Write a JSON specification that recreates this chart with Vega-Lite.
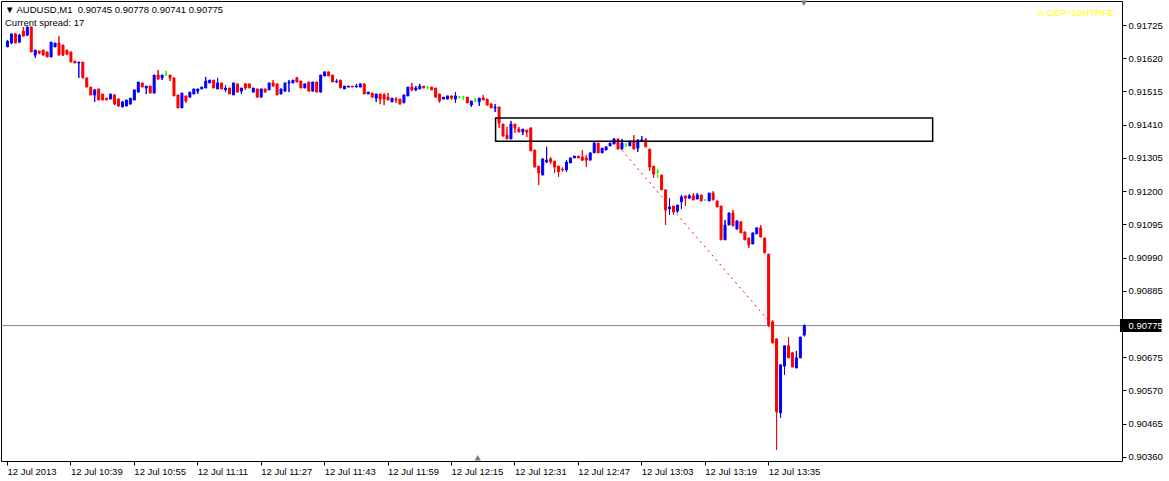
{
"$schema":"https://vega.github.io/schema/vega-lite/v6.json",
"width":1121,"height":460,
"autosize":{"type":"none"},
"padding":{"left":1,"top":1,"right":47,"bottom":20},
"background":"white",
"config":{"view":{"stroke":"black","strokeWidth":1},"font":"Liberation Sans","axis":{"labelOverlap":false,"labelFlush":false,"labelBound":false}},
"title":{"text":"▼ AUDUSD,M1\u00a0 0.90745 0.90778 0.90741 0.90775","subtitle":"Current spread: 17","anchor":"start","frame":"group","offset":-27,"dx":4,"font":"Liberation Sans","fontSize":9.5,"fontWeight":"normal","color":"black","subtitleFont":"Liberation Sans","subtitleFontSize":9.5,"subtitleColor":"black","subtitlePadding":3},
"data":{"values":[
{"t":"10:23","o":0.91656,"h":0.91678,"l":0.91656,"c":0.91674},
{"t":"10:24","o":0.91668,"h":0.91697,"l":0.91665,"c":0.91697},
{"t":"10:25","o":0.91697,"h":0.91700,"l":0.91668,"c":0.91668},
{"t":"10:26","o":0.91671,"h":0.91697,"l":0.91668,"c":0.91693},
{"t":"10:27","o":0.91706,"h":0.91719,"l":0.91690,"c":0.91690},
{"t":"10:28","o":0.91693,"h":0.91719,"l":0.91690,"c":0.91719},
{"t":"10:29","o":0.91719,"h":0.91719,"l":0.91640,"c":0.91640},
{"t":"10:30","o":0.91630,"h":0.91646,"l":0.91621,"c":0.91646},
{"t":"10:31","o":0.91643,"h":0.91643,"l":0.91633,"c":0.91637},
{"t":"10:32","o":0.91646,"h":0.91646,"l":0.91630,"c":0.91630},
{"t":"10:33","o":0.91640,"h":0.91640,"l":0.91624,"c":0.91624},
{"t":"10:34","o":0.91624,"h":0.91671,"l":0.91624,"c":0.91671},
{"t":"10:35","o":0.91656,"h":0.91668,"l":0.91656,"c":0.91668},
{"t":"10:36","o":0.91668,"h":0.91690,"l":0.91630,"c":0.91630},
{"t":"10:37","o":0.91662,"h":0.91662,"l":0.91627,"c":0.91630},
{"t":"10:38","o":0.91646,"h":0.91646,"l":0.91630,"c":0.91633},
{"t":"10:39","o":0.91640,"h":0.91640,"l":0.91608,"c":0.91608},
{"t":"10:40","o":0.91611,"h":0.91611,"l":0.91605,"c":0.91605},
{"t":"10:41","o":0.91605,"h":0.91608,"l":0.91558,"c":0.91608},
{"t":"10:42","o":0.91608,"h":0.91608,"l":0.91558,"c":0.91558},
{"t":"10:43","o":0.91558,"h":0.91558,"l":0.91529,"c":0.91529},
{"t":"10:44","o":0.91529,"h":0.91529,"l":0.91504,"c":0.91504},
{"t":"10:45","o":0.91504,"h":0.91523,"l":0.91482,"c":0.91520},
{"t":"10:46","o":0.91523,"h":0.91523,"l":0.91488,"c":0.91488},
{"t":"10:47","o":0.91507,"h":0.91507,"l":0.91488,"c":0.91488},
{"t":"10:48","o":0.91494,"h":0.91494,"l":0.91488,"c":0.91488},
{"t":"10:49","o":0.91491,"h":0.91507,"l":0.91491,"c":0.91507},
{"t":"10:50","o":0.91504,"h":0.91507,"l":0.91472,"c":0.91475},
{"t":"10:51","o":0.91491,"h":0.91494,"l":0.91466,"c":0.91469},
{"t":"10:52","o":0.91466,"h":0.91485,"l":0.91466,"c":0.91482},
{"t":"10:53","o":0.91469,"h":0.91488,"l":0.91469,"c":0.91488},
{"t":"10:54","o":0.91475,"h":0.91494,"l":0.91475,"c":0.91494},
{"t":"10:55","o":0.91488,"h":0.91520,"l":0.91488,"c":0.91520},
{"t":"10:56","o":0.91513,"h":0.91545,"l":0.91513,"c":0.91545},
{"t":"10:57","o":0.91542,"h":0.91542,"l":0.91529,"c":0.91529},
{"t":"10:58","o":0.91526,"h":0.91532,"l":0.91507,"c":0.91532},
{"t":"10:59","o":0.91532,"h":0.91532,"l":0.91510,"c":0.91510},
{"t":"11:00","o":0.91510,"h":0.91567,"l":0.91510,"c":0.91567},
{"t":"11:01","o":0.91567,"h":0.91583,"l":0.91554,"c":0.91554},
{"t":"11:02","o":0.91558,"h":0.91567,"l":0.91551,"c":0.91567},
{"t":"11:03","o":0.91567,"h":0.91580,"l":0.91567,"c":0.91567},
{"t":"11:04","o":0.91567,"h":0.91567,"l":0.91548,"c":0.91558},
{"t":"11:05","o":0.91558,"h":0.91558,"l":0.91501,"c":0.91501},
{"t":"11:06","o":0.91504,"h":0.91504,"l":0.91463,"c":0.91463},
{"t":"11:07","o":0.91463,"h":0.91510,"l":0.91463,"c":0.91510},
{"t":"11:08","o":0.91501,"h":0.91501,"l":0.91479,"c":0.91485},
{"t":"11:09","o":0.91497,"h":0.91513,"l":0.91497,"c":0.91513},
{"t":"11:10","o":0.91507,"h":0.91523,"l":0.91507,"c":0.91523},
{"t":"11:11","o":0.91516,"h":0.91523,"l":0.91507,"c":0.91523},
{"t":"11:12","o":0.91523,"h":0.91529,"l":0.91523,"c":0.91529},
{"t":"11:13","o":0.91526,"h":0.91561,"l":0.91526,"c":0.91548},
{"t":"11:14","o":0.91542,"h":0.91551,"l":0.91542,"c":0.91551},
{"t":"11:15","o":0.91551,"h":0.91551,"l":0.91526,"c":0.91526},
{"t":"11:16","o":0.91523,"h":0.91558,"l":0.91523,"c":0.91542},
{"t":"11:17","o":0.91542,"h":0.91542,"l":0.91523,"c":0.91523},
{"t":"11:18","o":0.91520,"h":0.91535,"l":0.91513,"c":0.91526},
{"t":"11:19","o":0.91526,"h":0.91526,"l":0.91507,"c":0.91507},
{"t":"11:20","o":0.91504,"h":0.91542,"l":0.91504,"c":0.91542},
{"t":"11:21","o":0.91539,"h":0.91539,"l":0.91513,"c":0.91513},
{"t":"11:22","o":0.91516,"h":0.91526,"l":0.91507,"c":0.91526},
{"t":"11:23","o":0.91539,"h":0.91542,"l":0.91520,"c":0.91526},
{"t":"11:24","o":0.91539,"h":0.91539,"l":0.91526,"c":0.91526},
{"t":"11:25","o":0.91513,"h":0.91526,"l":0.91513,"c":0.91526},
{"t":"11:26","o":0.91523,"h":0.91523,"l":0.91497,"c":0.91497},
{"t":"11:27","o":0.91497,"h":0.91523,"l":0.91497,"c":0.91523},
{"t":"11:28","o":0.91523,"h":0.91523,"l":0.91513,"c":0.91513},
{"t":"11:29","o":0.91520,"h":0.91542,"l":0.91520,"c":0.91542},
{"t":"11:30","o":0.91542,"h":0.91551,"l":0.91532,"c":0.91532},
{"t":"11:31","o":0.91539,"h":0.91539,"l":0.91504,"c":0.91504},
{"t":"11:32","o":0.91507,"h":0.91523,"l":0.91507,"c":0.91523},
{"t":"11:33","o":0.91516,"h":0.91542,"l":0.91516,"c":0.91542},
{"t":"11:34","o":0.91542,"h":0.91551,"l":0.91513,"c":0.91545},
{"t":"11:35","o":0.91542,"h":0.91551,"l":0.91542,"c":0.91551},
{"t":"11:36","o":0.91558,"h":0.91561,"l":0.91545,"c":0.91545},
{"t":"11:37","o":0.91548,"h":0.91548,"l":0.91526,"c":0.91526},
{"t":"11:38","o":0.91526,"h":0.91539,"l":0.91526,"c":0.91539},
{"t":"11:39","o":0.91545,"h":0.91545,"l":0.91516,"c":0.91516},
{"t":"11:40","o":0.91516,"h":0.91545,"l":0.91516,"c":0.91545},
{"t":"11:41","o":0.91545,"h":0.91545,"l":0.91513,"c":0.91513},
{"t":"11:42","o":0.91513,"h":0.91567,"l":0.91513,"c":0.91567},
{"t":"11:43","o":0.91564,"h":0.91577,"l":0.91564,"c":0.91577},
{"t":"11:44","o":0.91577,"h":0.91577,"l":0.91564,"c":0.91564},
{"t":"11:45","o":0.91567,"h":0.91567,"l":0.91545,"c":0.91545},
{"t":"11:46","o":0.91545,"h":0.91554,"l":0.91542,"c":0.91548},
{"t":"11:47","o":0.91551,"h":0.91551,"l":0.91526,"c":0.91526},
{"t":"11:48","o":0.91523,"h":0.91532,"l":0.91523,"c":0.91532},
{"t":"11:49","o":0.91529,"h":0.91532,"l":0.91529,"c":0.91532},
{"t":"11:50","o":0.91532,"h":0.91532,"l":0.91529,"c":0.91529},
{"t":"11:51","o":0.91529,"h":0.91539,"l":0.91529,"c":0.91532},
{"t":"11:52","o":0.91529,"h":0.91539,"l":0.91529,"c":0.91539},
{"t":"11:53","o":0.91539,"h":0.91539,"l":0.91507,"c":0.91507},
{"t":"11:54","o":0.91507,"h":0.91513,"l":0.91507,"c":0.91513},
{"t":"11:55","o":0.91510,"h":0.91510,"l":0.91497,"c":0.91497},
{"t":"11:56","o":0.91494,"h":0.91507,"l":0.91482,"c":0.91507},
{"t":"11:57","o":0.91507,"h":0.91507,"l":0.91475,"c":0.91491},
{"t":"11:58","o":0.91504,"h":0.91510,"l":0.91472,"c":0.91491},
{"t":"11:59","o":0.91497,"h":0.91510,"l":0.91488,"c":0.91488},
{"t":"12:00","o":0.91482,"h":0.91494,"l":0.91482,"c":0.91494},
{"t":"12:01","o":0.91491,"h":0.91497,"l":0.91479,"c":0.91488},
{"t":"12:02","o":0.91491,"h":0.91491,"l":0.91475,"c":0.91475},
{"t":"12:03","o":0.91479,"h":0.91504,"l":0.91479,"c":0.91504},
{"t":"12:04","o":0.91501,"h":0.91529,"l":0.91501,"c":0.91529},
{"t":"12:05","o":0.91529,"h":0.91542,"l":0.91516,"c":0.91520},
{"t":"12:06","o":0.91520,"h":0.91532,"l":0.91516,"c":0.91526},
{"t":"12:07","o":0.91523,"h":0.91539,"l":0.91523,"c":0.91532},
{"t":"12:08","o":0.91532,"h":0.91532,"l":0.91526,"c":0.91526},
{"t":"12:09","o":0.91529,"h":0.91532,"l":0.91523,"c":0.91529},
{"t":"12:10","o":0.91529,"h":0.91529,"l":0.91520,"c":0.91520},
{"t":"12:11","o":0.91526,"h":0.91526,"l":0.91497,"c":0.91497},
{"t":"12:12","o":0.91507,"h":0.91507,"l":0.91479,"c":0.91485},
{"t":"12:13","o":0.91491,"h":0.91497,"l":0.91491,"c":0.91497},
{"t":"12:14","o":0.91491,"h":0.91501,"l":0.91491,"c":0.91501},
{"t":"12:15","o":0.91501,"h":0.91501,"l":0.91488,"c":0.91494},
{"t":"12:16","o":0.91491,"h":0.91513,"l":0.91479,"c":0.91501},
{"t":"12:17","o":0.91497,"h":0.91501,"l":0.91494,"c":0.91497},
{"t":"12:18","o":0.91497,"h":0.91501,"l":0.91488,"c":0.91497},
{"t":"12:19","o":0.91497,"h":0.91497,"l":0.91479,"c":0.91479},
{"t":"12:20","o":0.91472,"h":0.91485,"l":0.91466,"c":0.91485},
{"t":"12:21","o":0.91488,"h":0.91494,"l":0.91482,"c":0.91488},
{"t":"12:22","o":0.91482,"h":0.91494,"l":0.91469,"c":0.91494},
{"t":"12:23","o":0.91494,"h":0.91504,"l":0.91488,"c":0.91488},
{"t":"12:24","o":0.91491,"h":0.91491,"l":0.91472,"c":0.91472},
{"t":"12:25","o":0.91475,"h":0.91479,"l":0.91463,"c":0.91463},
{"t":"12:26","o":0.91463,"h":0.91475,"l":0.91450,"c":0.91466},
{"t":"12:27","o":0.91466,"h":0.91466,"l":0.91400,"c":0.91415},
{"t":"12:28","o":0.91412,"h":0.91412,"l":0.91374,"c":0.91374},
{"t":"12:29","o":0.91377,"h":0.91403,"l":0.91365,"c":0.91365},
{"t":"12:30","o":0.91365,"h":0.91422,"l":0.91365,"c":0.91412},
{"t":"12:31","o":0.91412,"h":0.91412,"l":0.91384,"c":0.91400},
{"t":"12:32","o":0.91396,"h":0.91403,"l":0.91387,"c":0.91387},
{"t":"12:33","o":0.91387,"h":0.91396,"l":0.91377,"c":0.91396},
{"t":"12:34","o":0.91393,"h":0.91393,"l":0.91371,"c":0.91387},
{"t":"12:35","o":0.91400,"h":0.91400,"l":0.91327,"c":0.91327},
{"t":"12:36","o":0.91330,"h":0.91330,"l":0.91276,"c":0.91276},
{"t":"12:37","o":0.91279,"h":0.91279,"l":0.91219,"c":0.91257},
{"t":"12:38","o":0.91251,"h":0.91302,"l":0.91251,"c":0.91302},
{"t":"12:39","o":0.91292,"h":0.91340,"l":0.91289,"c":0.91298},
{"t":"12:40","o":0.91302,"h":0.91308,"l":0.91286,"c":0.91292},
{"t":"12:41","o":0.91295,"h":0.91295,"l":0.91257,"c":0.91276},
{"t":"12:42","o":0.91279,"h":0.91279,"l":0.91245,"c":0.91261},
{"t":"12:43","o":0.91270,"h":0.91276,"l":0.91261,"c":0.91267},
{"t":"12:44","o":0.91267,"h":0.91298,"l":0.91261,"c":0.91292},
{"t":"12:45","o":0.91289,"h":0.91305,"l":0.91289,"c":0.91305},
{"t":"12:46","o":0.91305,"h":0.91311,"l":0.91305,"c":0.91311},
{"t":"12:47","o":0.91311,"h":0.91311,"l":0.91305,"c":0.91305},
{"t":"12:48","o":0.91308,"h":0.91330,"l":0.91295,"c":0.91298},
{"t":"12:49","o":0.91305,"h":0.91314,"l":0.91276,"c":0.91298},
{"t":"12:50","o":0.91298,"h":0.91321,"l":0.91298,"c":0.91321},
{"t":"12:51","o":0.91321,"h":0.91355,"l":0.91321,"c":0.91352},
{"t":"12:52","o":0.91352,"h":0.91352,"l":0.91321,"c":0.91321},
{"t":"12:53","o":0.91321,"h":0.91336,"l":0.91321,"c":0.91336},
{"t":"12:54","o":0.91330,"h":0.91340,"l":0.91330,"c":0.91340},
{"t":"12:55","o":0.91343,"h":0.91352,"l":0.91343,"c":0.91352},
{"t":"12:56","o":0.91349,"h":0.91368,"l":0.91349,"c":0.91365},
{"t":"12:57","o":0.91365,"h":0.91365,"l":0.91333,"c":0.91333},
{"t":"12:58","o":0.91333,"h":0.91365,"l":0.91333,"c":0.91352},
{"t":"12:59","o":0.91349,"h":0.91349,"l":0.91340,"c":0.91349},
{"t":"13:00","o":0.91343,"h":0.91358,"l":0.91343,"c":0.91358},
{"t":"13:01","o":0.91358,"h":0.91377,"l":0.91333,"c":0.91333},
{"t":"13:02","o":0.91336,"h":0.91362,"l":0.91324,"c":0.91362},
{"t":"13:03","o":0.91358,"h":0.91374,"l":0.91358,"c":0.91362},
{"t":"13:04","o":0.91362,"h":0.91368,"l":0.91340,"c":0.91340},
{"t":"13:05","o":0.91333,"h":0.91333,"l":0.91264,"c":0.91276},
{"t":"13:06","o":0.91279,"h":0.91279,"l":0.91242,"c":0.91254},
{"t":"13:07","o":0.91261,"h":0.91270,"l":0.91242,"c":0.91261},
{"t":"13:08","o":0.91251,"h":0.91251,"l":0.91204,"c":0.91204},
{"t":"13:09","o":0.91204,"h":0.91204,"l":0.91093,"c":0.91140},
{"t":"13:10","o":0.91144,"h":0.91178,"l":0.91125,"c":0.91150},
{"t":"13:11","o":0.91153,"h":0.91153,"l":0.91125,"c":0.91134},
{"t":"13:12","o":0.91137,"h":0.91156,"l":0.91131,"c":0.91156},
{"t":"13:13","o":0.91166,"h":0.91188,"l":0.91144,"c":0.91182},
{"t":"13:14","o":0.91185,"h":0.91185,"l":0.91153,"c":0.91178},
{"t":"13:15","o":0.91178,"h":0.91191,"l":0.91175,"c":0.91185},
{"t":"13:16","o":0.91185,"h":0.91194,"l":0.91172,"c":0.91172},
{"t":"13:17","o":0.91175,"h":0.91194,"l":0.91175,"c":0.91188},
{"t":"13:18","o":0.91188,"h":0.91188,"l":0.91169,"c":0.91169},
{"t":"13:19","o":0.91172,"h":0.91172,"l":0.91172,"c":0.91172},
{"t":"13:20","o":0.91169,"h":0.91194,"l":0.91169,"c":0.91194},
{"t":"13:21","o":0.91194,"h":0.91200,"l":0.91172,"c":0.91172},
{"t":"13:22","o":0.91169,"h":0.91169,"l":0.91150,"c":0.91150},
{"t":"13:23","o":0.91153,"h":0.91153,"l":0.91046,"c":0.91046},
{"t":"13:24","o":0.91046,"h":0.91109,"l":0.91046,"c":0.91093},
{"t":"13:25","o":0.91093,"h":0.91131,"l":0.91093,"c":0.91131},
{"t":"13:26","o":0.91131,"h":0.91140,"l":0.91090,"c":0.91090},
{"t":"13:27","o":0.91080,"h":0.91106,"l":0.91080,"c":0.91106},
{"t":"13:28","o":0.91103,"h":0.91103,"l":0.91068,"c":0.91068},
{"t":"13:29","o":0.91071,"h":0.91071,"l":0.91046,"c":0.91046},
{"t":"13:30","o":0.91052,"h":0.91052,"l":0.91020,"c":0.91030},
{"t":"13:31","o":0.91033,"h":0.91068,"l":0.91033,"c":0.91068},
{"t":"13:32","o":0.91065,"h":0.91084,"l":0.91065,"c":0.91084},
{"t":"13:33","o":0.91084,"h":0.91093,"l":0.91055,"c":0.91055},
{"t":"13:34","o":0.91052,"h":0.91052,"l":0.91005,"c":0.91005},
{"t":"13:35","o":0.91001,"h":0.91001,"l":0.90771,"c":0.90777},
{"t":"13:36","o":0.90787,"h":0.90793,"l":0.90720,"c":0.90720},
{"t":"13:37","o":0.90733,"h":0.90733,"l":0.90382,"c":0.90502},
{"t":"13:38","o":0.90499,"h":0.90651,"l":0.90483,"c":0.90651},
{"t":"13:39","o":0.90647,"h":0.90711,"l":0.90619,"c":0.90711},
{"t":"13:40","o":0.90711,"h":0.90739,"l":0.90673,"c":0.90673},
{"t":"13:41","o":0.90689,"h":0.90692,"l":0.90644,"c":0.90644},
{"t":"13:42","o":0.90641,"h":0.90695,"l":0.90641,"c":0.90673},
{"t":"13:43","o":0.90673,"h":0.90739,"l":0.90673,"c":0.90739},
{"t":"13:44","o":0.90745,"h":0.90778,"l":0.90741,"c":0.90775}
],"format":{"parse":{"t":"date:'%H:%M'"}}},
"layer":[
{"mark":{"type":"rule","strokeWidth":1,"xOffset":0.5},
 "encoding":{
  "x":{"field":"t","type":"temporal","title":null,
   "scale":{"domain":[{"year":1900,"month":1,"date":1,"hours":10,"minutes":22,"seconds":45},{"year":1900,"month":1,"date":1,"hours":15,"minutes":3}],"nice":false},
   "axis":{"values":[
    {"year":1900,"month":1,"date":1,"hours":10,"minutes":23},
    {"year":1900,"month":1,"date":1,"hours":10,"minutes":39},
    {"year":1900,"month":1,"date":1,"hours":10,"minutes":55},
    {"year":1900,"month":1,"date":1,"hours":11,"minutes":11},
    {"year":1900,"month":1,"date":1,"hours":11,"minutes":27},
    {"year":1900,"month":1,"date":1,"hours":11,"minutes":43},
    {"year":1900,"month":1,"date":1,"hours":11,"minutes":59},
    {"year":1900,"month":1,"date":1,"hours":12,"minutes":15},
    {"year":1900,"month":1,"date":1,"hours":12,"minutes":31},
    {"year":1900,"month":1,"date":1,"hours":12,"minutes":47},
    {"year":1900,"month":1,"date":1,"hours":13,"minutes":3},
    {"year":1900,"month":1,"date":1,"hours":13,"minutes":19},
    {"year":1900,"month":1,"date":1,"hours":13,"minutes":35}],
    "tickCount":40,
    "labelExpr":"hours(datum.value)==10 && minutes(datum.value)==23 ? '12 Jul 2013' : timeFormat(datum.value, '12 Jul %H:%M')",
    "labelAlign":"left","labelBaseline":"top","labelPadding":1,"labelFont":"Liberation Sans","labelFontSize":9.5,"labelColor":"black",
    "tickSize":4,"tickColor":"black","domain":false,"grid":false,"labelFlush":false,"labelOverlap":false,"labelBound":false,"zindex":1}},
  "y":{"field":"l","type":"quantitative","title":null,
   "scale":{"domain":[0.90347,0.91801],"nice":false,"zero":false},
   "axis":{"orient":"right","values":[0.91725,0.9162,0.91515,0.9141,0.91305,0.912,0.91095,0.9099,0.90885,0.90775,0.90675,0.9057,0.90465,0.9036],
    "tickCount":40,
    "format":".5f","labelFont":"Liberation Sans","labelFontSize":9.5,
    "labelColor":{"condition":{"test":"abs(datum.value-0.90775)<0.000001","value":"white"},"value":"black"},
    "tickSize":4,"tickColor":"black","domain":false,"grid":false,"labelPadding":2,"labelFlush":false,"labelOverlap":false,"labelBound":false,"zindex":1}},
  "y2":{"field":"h"},
  "color":{"condition":[{"test":"datum.c > datum.o","value":"#0000ff"},{"test":"datum.c < datum.o","value":"#ff0000"}],"value":"#00ff00"}}},
{"data":{"values":[{}]},"mark":{"type":"rule","color":"#778899","strokeWidth":1},
 "encoding":{"y":{"datum":0.90775,"type":"quantitative","title":null}}},
{"data":{"values":[{"t":"12:56","p":0.91358},{"t":"13:35","p":0.90790}],"format":{"parse":{"t":"date:'%H:%M'"}}},
 "mark":{"type":"line","color":"#ff0000","strokeWidth":1,"strokeDash":[2,4],"xOffset":0.5},
 "encoding":{"x":{"field":"t","type":"temporal","title":null},"y":{"field":"p","type":"quantitative","title":null}}},
{"mark":{"type":"rule","strokeWidth":1,"xOffset":0.5},
 "encoding":{
  "x":{"field":"t","type":"temporal","title":null},
  "y":{"field":"l","type":"quantitative","title":null},
  "y2":{"field":"h"},
  "color":{"condition":[{"test":"datum.c > datum.o","value":"#0000ff"},{"test":"datum.c < datum.o","value":"#ff0000"}],"value":"#00ff00"}}},
{"mark":{"type":"bar","width":2,"strokeWidth":1,"xOffset":0.5},
 "encoding":{
  "x":{"field":"t","type":"temporal","title":null},
  "y":{"field":"o","type":"quantitative","title":null},
  "y2":{"field":"c"},
  "color":{"condition":[{"test":"datum.c > datum.o","value":"#0000ff"},{"test":"datum.c < datum.o","value":"#ff0000"}],"value":"#00ff00"},
  "stroke":{"condition":[{"test":"datum.c > datum.o","value":"#0000ff"},{"test":"datum.c < datum.o","value":"#ff0000"}],"value":"#00ff00"}}},
{"data":{"values":[{}]},"mark":{"type":"rect","fillOpacity":0,"stroke":"black","strokeWidth":1.5},
 "encoding":{
  "x":{"datum":{"year":1900,"month":1,"date":1,"hours":12,"minutes":26,"seconds":15},"type":"temporal"},
  "x2":{"datum":{"year":1900,"month":1,"date":1,"hours":14,"minutes":16,"seconds":30}},
  "y":{"datum":0.91431,"type":"quantitative"},
  "y2":{"datum":0.91358}}},
{"data":{"values":[{}]},"mark":{"type":"rect","color":"black"},
 "encoding":{
  "x":{"datum":{"year":1900,"month":1,"date":1,"hours":15,"minutes":3,"seconds":45},"type":"temporal"},
  "x2":{"datum":{"year":1900,"month":1,"date":1,"hours":15,"minutes":14,"seconds":15}},
  "y":{"datum":0.90796,"type":"quantitative"},
  "y2":{"datum":0.90755}}},
{"data":{"values":[{}]},"mark":{"type":"point","shape":"triangle-down","filled":true,"size":40,"color":"#708090","opacity":1},
 "encoding":{
  "x":{"datum":{"year":1900,"month":1,"date":1,"hours":13,"minutes":44},"type":"temporal"},
  "y":{"datum":0.91794,"type":"quantitative"}}},
{"data":{"values":[{}]},"mark":{"type":"point","shape":"triangle-up","filled":true,"size":40,"color":"#708090","opacity":1},
 "encoding":{
  "x":{"datum":{"year":1900,"month":1,"date":1,"hours":12,"minutes":21,"seconds":45},"type":"temporal"},
  "y":{"datum":0.90357,"type":"quantitative"}}},
{"data":{"values":[{}]},"mark":{"type":"text","text":"A:CEP+10HTRFE","align":"right","baseline":"middle","font":"Liberation Sans","fontSize":9.5,"color":"#ffff00"},
 "encoding":{
  "x":{"datum":{"year":1900,"month":1,"date":1,"hours":15,"minutes":2,"seconds":15},"type":"temporal"},
  "y":{"datum":0.91763,"type":"quantitative"}}}
]
}
